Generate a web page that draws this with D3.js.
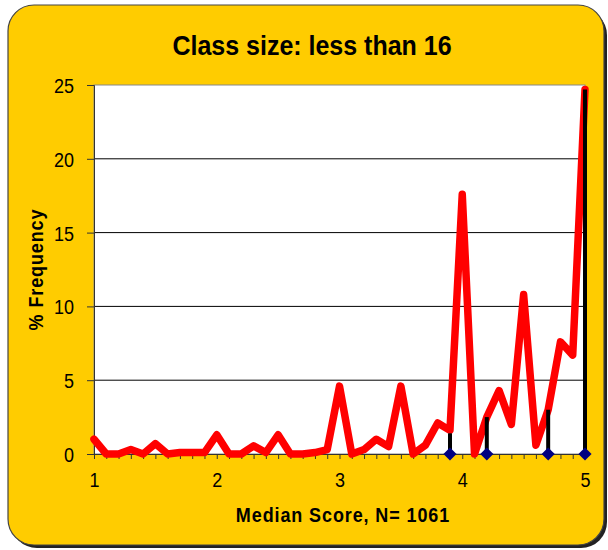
<html>
<style>
body { margin: 0; background: #fff; }
text { font-family: Arial, "Liberation Sans", sans-serif; }
</style>
<body>
<script src="https://d3js.org/d3.v7.min.js"></script>
<script>

var scores = [1.0,1.1,1.2,1.3,1.4,1.5,1.6,1.7,1.8,1.9,
              2.0,2.1,2.2,2.3,2.4,2.5,2.6,2.7,2.8,2.9,
              3.0,3.1,3.2,3.3,3.4,3.5,3.6,3.7,3.8,3.9,
              4.0,4.1,4.2,4.3,4.4,4.5,4.6,4.7,4.8,4.9,5.0];
var freq = [1.0,0,0,0.3,0,0.7,0,0.1,0.1,0.1,
            1.3,0,0,0.55,0.1,1.3,0,0,0.1,0.3,
            4.6,0,0.3,1.0,0.5,4.6,0,0.6,2.1,1.6,
            17.6,0,2.5,4.3,2.0,10.8,0.6,3.0,7.6,6.7,24.7];

// drop lines with the diamond markers
var dropX = [3.9, 4.2, 4.7, 5.0];
var dropY = [1.4, 2.5, 3.0, 24.7];

var yTicks = [0,5,10,15,20,25];
var xTicks = [1,2,3,4,5];

var width = 608, height = 550;
var margin = {left: 94, right: 23, top: 85, bottom: 96};
var stretch = 1.15; // text in the picture is a bit taller than wide

var svg = d3.select("body").append("svg")
    .attr("width", width)
    .attr("height", height);

// yellow panel + shadow
svg.append("rect")
    .attr("x", 11).attr("y", 9)
    .attr("width", 596).attr("height", 539)
    .attr("rx", 26)
    .attr("fill", "#222");
svg.append("rect")
    .attr("x", 8).attr("y", 5)
    .attr("width", 596).attr("height", 540)
    .attr("rx", 26)
    .attr("fill", "#ffcc00")
    .attr("stroke", "#444")
    .attr("stroke-width", 1.2);

var x = d3.scaleLinear()
    .domain([1,5])
    .range([margin.left, width - margin.right]);

var y = d3.scaleLinear()
    .domain([0,25])
    .range([height - margin.bottom, margin.top]);

svg.append("rect")
    .attr("x", x(1)).attr("y", y(25))
    .attr("width", x(5) - x(1)).attr("height", y(0) - y(25))
    .attr("fill", "#fff")
    .attr("stroke", "#888");

// grid
svg.append("g").selectAll("line")
    .data(yTicks.filter(d => d > 0 && d < 25))
    .enter().append("line")
    .attr("x1", x(1)).attr("x2", x(5))
    .attr("y1", d => y(d)).attr("y2", d => y(d))
    .attr("stroke", "#000")
    .attr("stroke-width", 1);

// y axis
var yAxis = svg.append("g")
    .attr("transform", "translate(" + x(1) + ",0)")
    .call(d3.axisLeft(y).tickValues(yTicks).tickSize(7).tickPadding(13));
yAxis.select(".domain").attr("stroke", "#333");
yAxis.selectAll(".tick line").attr("stroke", "#333");
yAxis.selectAll("text")
    .attr("font-size", 18).attr("fill", "#000")
    .attr("dy", null)
    .attr("dominant-baseline", "central")
    .attr("transform", "scale(1," + stretch + ")")
    .style("font-family", "Arial, 'Liberation Sans', sans-serif");
yAxis.selectAll(".tick").each(function() {
  // keep the scaled label centred on its tick
  d3.select(this).select("text").attr("y", 0);
});

// x axis: minor ticks every 0.1, labels on the integers
var xMinor = svg.append("g")
    .attr("transform", "translate(0," + y(0) + ")")
    .call(d3.axisBottom(x).tickValues(scores).tickSize(5).tickFormat(""));
xMinor.select(".domain").attr("stroke", "#333");
xMinor.selectAll(".tick line").attr("stroke", "#333");

var xAxis = svg.append("g")
    .attr("transform", "translate(0," + y(0) + ")")
    .call(d3.axisBottom(x).tickValues(xTicks).tickSize(0).tickPadding(0).tickFormat(d3.format("d")));
xAxis.select(".domain").remove();
xAxis.selectAll("text")
    .attr("font-size", 18).attr("fill", "#000")
    .attr("dy", null).attr("y", 0)
    .attr("transform", "translate(0,33) scale(1," + stretch + ")")
    .style("font-family", "Arial, 'Liberation Sans', sans-serif");

// red series
var line = d3.line()
    .x((d, i) => x(scores[i]))
    .y(d => y(d));

svg.append("path")
    .datum(freq)
    .attr("d", line)
    .attr("fill", "none")
    .attr("stroke", "#ff0000")
    .attr("stroke-width", 7.5)
    .attr("stroke-linejoin", "round")
    .attr("stroke-linecap", "round");

// black drop lines
svg.append("g").selectAll("line")
    .data(dropX)
    .enter().append("line")
    .attr("x1", d => x(d)).attr("x2", d => x(d))
    .attr("y1", y(0))
    .attr("y2", (d, i) => y(dropY[i]))
    .attr("stroke", "#000")
    .attr("stroke-width", 4);

svg.append("g").selectAll("path")
    .data(dropX)
    .enter().append("path")
    .attr("d", d3.symbol().type(d3.symbolDiamond2).size(110))
    .attr("transform", d => "translate(" + x(d) + "," + y(0) + ")")
    .attr("fill", "#000080");

// titles
svg.append("text")
    .attr("transform", "translate(312,55) scale(1,1.08)")
    .attr("text-anchor", "middle")
    .attr("font-size", 25).attr("font-weight", "bold")
    .text("Class size: less than 16");

svg.append("text")
    .attr("transform", "translate(343,522) scale(1," + stretch + ")")
    .attr("text-anchor", "middle")
    .attr("font-size", 18).attr("font-weight", "bold")
    .attr("letter-spacing", 0.9)
    .text("Median Score, N= 1061");

svg.append("text")
    .attr("transform", "translate(43," + ((y(0) + y(25)) / 2) + ") rotate(-90) scale(1," + stretch + ")")
    .attr("text-anchor", "middle")
    .attr("font-size", 18).attr("font-weight", "bold")
    .attr("letter-spacing", 0.9)
    .text("% Frequency");

</script>
</body>
</html>
